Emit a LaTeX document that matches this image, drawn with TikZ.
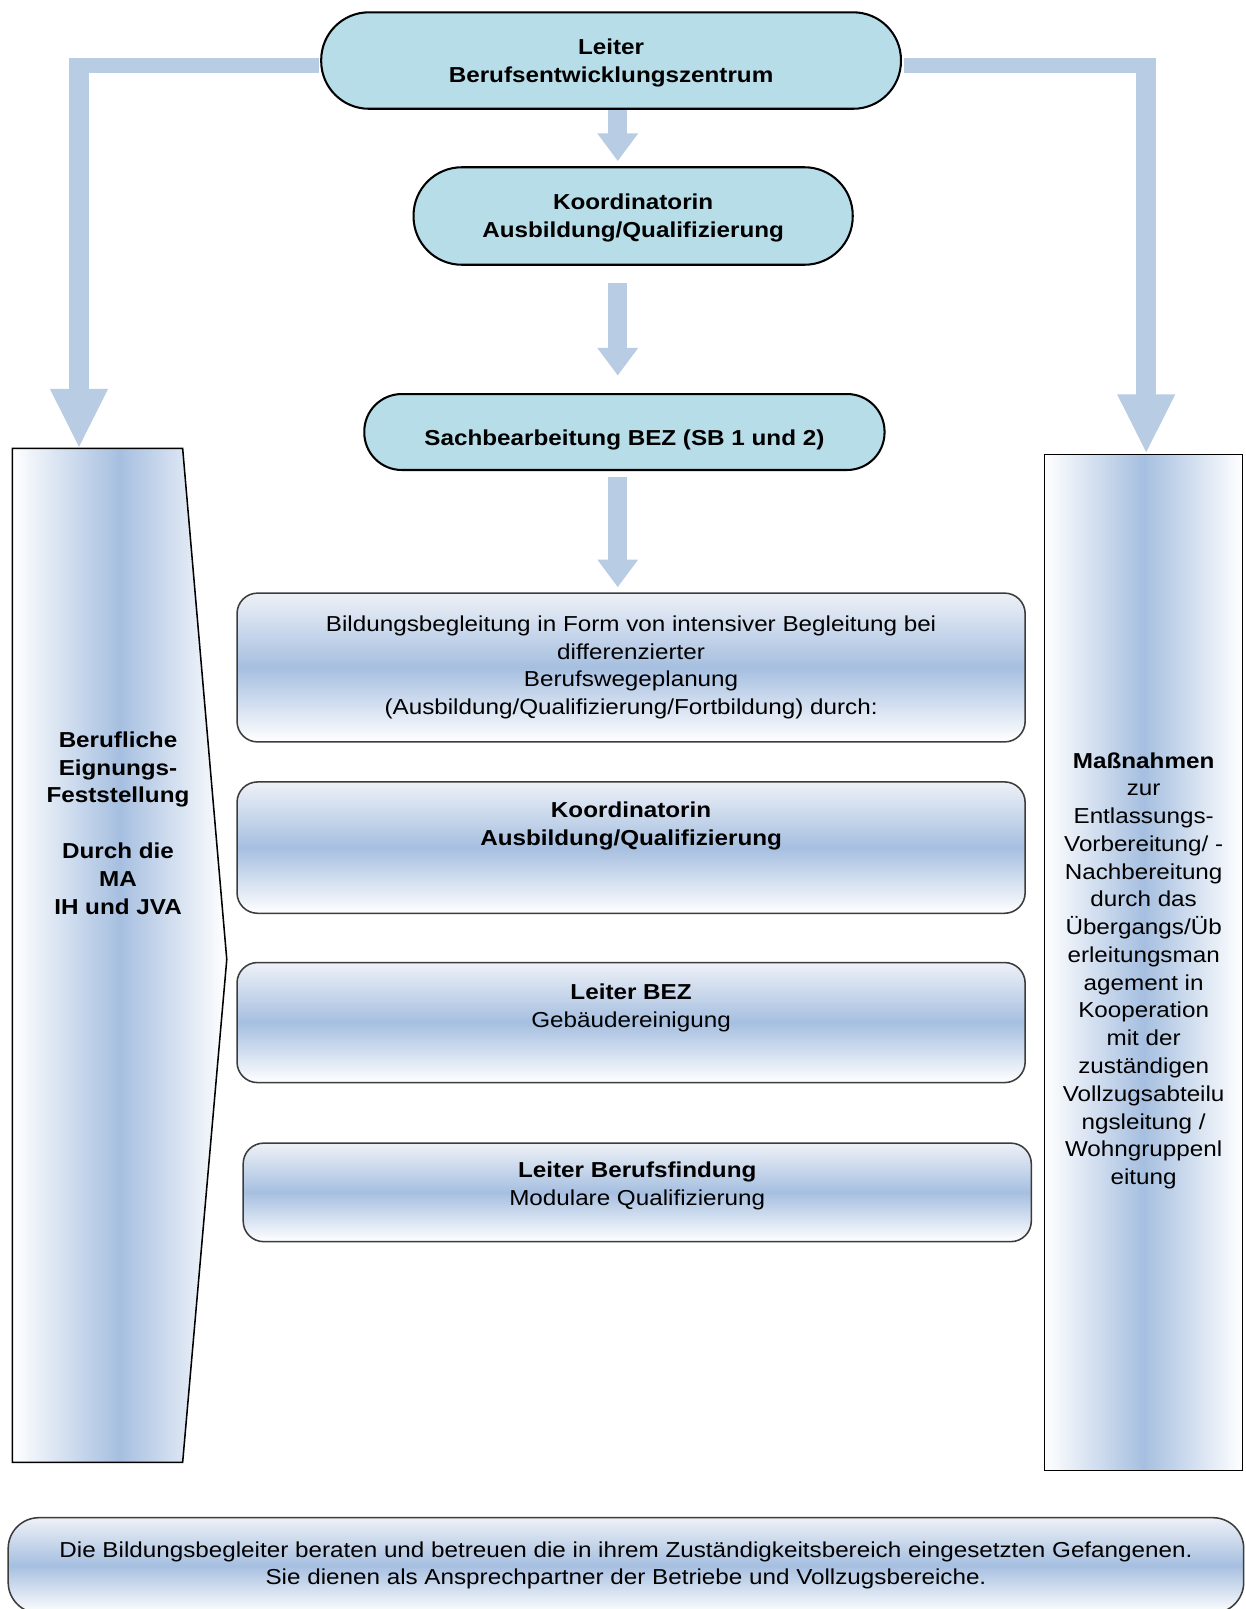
\documentclass[tikz,border=0pt]{standalone}
\usepackage{fontspec}
\setmainfont{Liberation Sans}[FakeStretch=1.12]
\usetikzlibrary{arrows.meta}
\definecolor{node_cyan}{RGB}{183,221,232}
\definecolor{edge_blue}{RGB}{184,204,228}
\definecolor{band_blue}{RGB}{166,191,224}
\definecolor{band_top}{RGB}{238,241,247}
\definecolor{node_gray}{RGB}{60,60,60}
\newcommand{\boxfont}{\fontsize{12}{15.4}\selectfont}

\begin{document}
\begin{tikzpicture}[x=0.2mm,y=-0.2mm,font=\boxfont]
    \tikzstyle{head}=[draw=black, line width=0.4mm, fill=node_cyan, align=center, text depth=0pt, font=\boxfont\bfseries]
    \tikzstyle{band}=[draw=node_gray, line width=0.3mm, rounded corners=4mm, top color=band_top, bottom color=white, middle color=band_blue, minimum width=153.6mm, align=center]
    \tikzstyle{column}=[draw=black, line width=0.3mm, left color=white, right color=white, middle color=band_blue]
    \tikzstyle{txt}=[align=center, font=\boxfont]
    \tikzstyle{bar}=[edge_blue, line width=3.7mm, -{Triangle[width=7.6mm,length=5.4mm]}]
    \tikzstyle{sidebar}=[edge_blue, line width=3.8mm, -{Triangle[width=10.4mm,length=11.6mm]}]

    \fill[white] (0,0) rectangle (1214,1568);
    \useasboundingbox (0,0) rectangle (1214,1568);

    % top of the chart
    \node[head, minimum width=113mm, minimum height=18.8mm, rounded corners=9.3mm] (leiter) at (595.5,59) {Leiter\\Berufsentwicklungszentrum};
    \node[head, minimum width=85.6mm, minimum height=19mm, rounded corners=9.4mm] (koord) at (617,210.5) {Koordinatorin\\Ausbildung/Qualifizierung};
    \node[head, minimum width=101.4mm, minimum height=14.8mm, rounded corners=7.3mm] (sach) at (608.5,421) {};
    \node[txt, font=\boxfont\bfseries] (sach-t) at ([yshift=-1.6mm]sach.center) {Sachbearbeitung BEZ (SB 1 und 2)};

    % Bildungsbegleitung
    \node[band, minimum height=29mm] (begl) at (615,650.5) {Bildungsbegleitung in Form von intensiver Begleitung bei\\differenzierter\\Berufswegeplanung\\(Ausbildung/Qualifizierung/Fortbildung) durch:};
    \node[band, minimum height=25.6mm] (koordB) at (615,826) {};
    \node[txt, font=\boxfont\bfseries] (koordB-t) at ([yshift=4.2mm]koordB.center) {Koordinatorin\\Ausbildung/Qualifizierung};
    \node[band, minimum height=23.4mm] (bez) at (615,996.5) {};
    \node[txt] (bez-t) at ([yshift=2.8mm]bez.center) {\textbf{Leiter BEZ}\\Gebäudereinigung};
    \node[band, minimum height=19.2mm] (findung) at (621,1162) {};
    \node[txt] (findung-t) at ([yshift=1.3mm]findung.center) {\textbf{Leiter Berufsfindung}\\Modulare Qualifizierung};

    % side columns
    \shade[column] (12,437) -- (178,437) -- (221,935) -- (178,1425) -- (12,1425) -- cycle;
    \coordinate (eignung-top) at (77,437);
    \node[txt, font=\boxfont\bfseries] (eignung) at (115,802) {Berufliche\\Eignungs-\\Feststellung\\[15.4pt]Durch die\\MA\\IH und JVA};
    \node[column, minimum width=38.6mm, minimum height=198mm] (massn) at (1114.5,938) {};
    \node[txt] (massn-t) at ([yshift=-1.6mm]massn.center) {\textbf{Maßnahmen}\\zur\\Entlassungs-\\Vorbereitung/ -\\Nachbereitung\\durch das\\Übergangs/Üb\\erleitungsman\\agement in\\Kooperation\\mit der\\zuständigen\\Vollzugsabteilu\\ngsleitung /\\Wohngruppenl\\eitung};

    % note at the bottom
    \node[band, minimum width=240.8mm, minimum height=18.6mm, rounded corners=6mm] (hinweis) at (610,1525.5) {Die Bildungsbegleiter beraten und betreuen die in ihrem Zuständigkeitsbereich eingesetzten Gefangenen.\\Sie dienen als Ansprechpartner der Betriebe und Vollzugsbereiche.};

    % arrows
    \coordinate (axis) at (602,0);
    \coordinate (lcorner) at (77,64);
    \coordinate (rcorner) at (1117,64);
    \draw[bar, shorten >=1mm] (leiter.south -| axis) -- (koord.north -| axis);
    \draw[bar, shorten <=3.4mm, shorten >=3.4mm] (koord.south -| axis) -- (sach.north -| axis);
    \draw[bar, shorten <=1.2mm, shorten >=1mm] (sach.south -| axis) -- (begl.north -| axis);
    \draw[edge_blue, line width=2.8mm, shorten <=0.3mm] (leiter.west |- lcorner) -- ([xshift=-1.9mm]lcorner);
    \draw[sidebar] ([yshift=1.4mm]lcorner) -- (eignung-top);
    \draw[edge_blue, line width=2.8mm, shorten <=0.3mm] (leiter.east |- rcorner) -- ([xshift=1.9mm]rcorner);
    \draw[sidebar] ([yshift=1.4mm]rcorner) -- (massn.north -| rcorner);
  \end{tikzpicture}
\end{document}
